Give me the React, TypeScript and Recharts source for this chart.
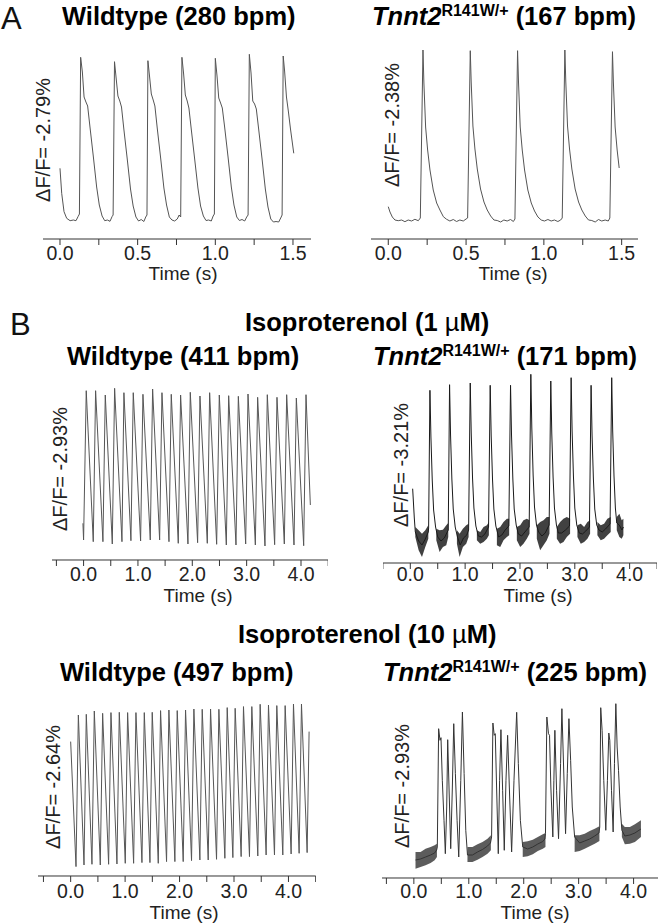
import React from 'react';
import { ComposedChart, Line, Area, XAxis, YAxis } from 'recharts';

type Pt = [number, number];
type Band = [number, number, number];

const FONT = '"Liberation Sans", Arial, Helvetica, sans-serif';
const PLOT_H = 200;
const AXIS_H = 36;

// ---------------- tick labels ----------------
const ticksA = [0, 0.25, 0.5, 0.75, 1.0, 1.25, 1.5];
const ticksBC = [-0.5, 0, 0.5, 1, 1.5, 2, 2.5, 3, 3.5, 4, 4.5];

// ---------------- Panel A : Wildtype (280 bpm)  [time s, fluorescence a.u.] ----------------
const aWildtype: Pt[] = [
  [0.000, 70.7], [0.011, 45.7], [0.026, 27.3], [0.043, 20.7], [0.065, 18.3], [0.086, 19.0], [0.103, 18.3], [0.116, 22.3], [0.125, 25.0],
  [0.133, 181.7], [0.144, 167], [0.155, 142], [0.167, 137], [0.178, 133], [0.193, 112], [0.215, 82], [0.236, 52], [0.253, 34], [0.271, 23], [0.288, 18.3], [0.305, 19], [0.322, 17.7], [0.335, 22.3], [0.342, 24],
  [0.351, 177.3], [0.362, 160], [0.373, 143], [0.385, 138], [0.396, 132], [0.411, 110], [0.433, 80], [0.454, 50], [0.471, 33], [0.489, 22], [0.506, 18], [0.523, 19.5], [0.540, 17.5], [0.552, 22], [0.560, 24],
  [0.566, 178.3], [0.577, 162], [0.588, 145], [0.600, 139], [0.611, 133], [0.626, 111], [0.648, 81], [0.669, 51], [0.686, 34], [0.704, 22], [0.721, 19], [0.738, 18], [0.755, 20], [0.767, 24], [0.777, 22],
  [0.785, 181.7], [0.796, 165], [0.807, 144], [0.819, 138], [0.830, 131], [0.845, 110], [0.867, 80], [0.888, 51], [0.905, 33], [0.923, 23], [0.940, 18.5], [0.957, 19], [0.974, 18], [0.986, 23], [0.994, 25],
  [1.000, 180.7], [1.011, 163], [1.022, 141], [1.034, 136], [1.045, 131], [1.060, 112], [1.082, 82], [1.103, 52], [1.120, 34], [1.138, 22], [1.155, 18.5], [1.172, 19.5], [1.189, 18], [1.202, 22], [1.211, 24],
  [1.219, 184.7], [1.230, 166], [1.241, 138], [1.253, 135], [1.264, 130], [1.279, 110], [1.301, 80], [1.322, 50], [1.339, 32], [1.357, 20], [1.374, 17], [1.391, 17.5], [1.408, 17], [1.421, 21], [1.430, 24],
  [1.437, 183], [1.446, 168], [1.458, 142], [1.470, 128], [1.484, 110], [1.505, 85.7],
];

// ---------------- Panel A : Tnnt2 R141W/+ (167 bpm) ----------------
const aMutant: Pt[] = [
  [0.000, 32.3], [0.011, 27], [0.026, 22], [0.043, 19], [0.064, 18.3], [0.086, 19], [0.107, 17.3], [0.128, 19], [0.150, 18], [0.171, 19.7], [0.193, 18.3], [0.206, 21],
  [0.223, 189], [0.229, 156], [0.240, 112], [0.253, 89], [0.268, 69], [0.289, 49], [0.311, 36], [0.332, 29], [0.354, 22.3], [0.375, 19.7], [0.396, 18], [0.418, 19.5], [0.439, 17.5], [0.460, 19], [0.482, 18], [0.500, 20], [0.510, 21],
  [0.527, 188.3], [0.533, 157], [0.544, 113], [0.557, 90], [0.572, 70], [0.593, 50], [0.615, 37], [0.636, 29], [0.658, 23], [0.679, 19], [0.700, 18.5], [0.722, 17], [0.743, 19], [0.764, 18], [0.786, 19.5], [0.804, 17.5], [0.814, 20],
  [0.831, 188.3], [0.837, 157], [0.848, 112], [0.861, 89], [0.876, 69], [0.897, 49], [0.919, 36], [0.940, 28], [0.962, 22], [0.983, 19], [1.004, 18], [1.026, 19.5], [1.047, 18], [1.068, 19], [1.090, 17.5], [1.108, 19], [1.118, 21],
  [1.135, 189], [1.141, 157], [1.152, 113], [1.165, 90], [1.180, 70], [1.201, 50], [1.223, 37], [1.244, 29], [1.266, 23], [1.287, 19], [1.308, 18.5], [1.330, 17], [1.351, 19.5], [1.372, 18], [1.394, 19], [1.414, 18], [1.424, 21],
  [1.441, 187.3], [1.447, 156], [1.458, 112], [1.471, 89], [1.484, 71],
];

// ---------------- Panel B : Isoproterenol 1 uM, Wildtype (411 bpm) ----------------
const bWtStart: Pt[] = [[-0.012, 36.7], [0.0, 20]];
const bWtPeakT = [0.049, 0.221, 0.399, 0.571, 0.742, 0.914, 1.092, 1.270, 1.442, 1.613, 1.785, 1.963, 2.141, 2.319, 2.497, 2.669, 2.847, 3.025, 3.202, 3.380, 3.558, 3.736, 3.914, 4.092];
const bWtPeakV = [169.3, 169.3, 165, 171.7, 167.3, 167.3, 165.7, 171, 167.3, 165.7, 165, 167.7, 164, 167.3, 165, 164.3, 163.7, 166, 162.7, 165.3, 162.7, 165.3, 162, 165.3];
const bWtTroughT = [0.178, 0.356, 0.528, 0.706, 0.871, 1.049, 1.227, 1.399, 1.571, 1.742, 1.920, 2.098, 2.276, 2.448, 2.626, 2.804, 2.982, 3.160, 3.337, 3.515, 3.693, 3.871, 4.049];
const bWtTroughV = [18.3, 18.3, 16, 18.3, 19.3, 19, 20, 20, 18.3, 16.7, 16, 17.3, 16.7, 15.7, 15, 15, 16, 15, 14, 15.3, 16, 15, 14.3];
const bWtEnd: Pt[] = [[4.172, 55]];

// ---------------- Panel B : Isoproterenol 1 uM, Tnnt2 R141W/+ (171 bpm) ----------------
const bMutant: Pt[] = [
  [0.043, 74.3], [0.073, 45], [0.091, 31], [0.152, 22], [0.213, 18], [0.273, 24], [0.328, 31],
  [0.334, 35], [0.358, 172.7], [0.376, 126], [0.400, 83], [0.425, 53], [0.461, 36],
  [0.50, 26], [0.56, 22], [0.62, 25], [0.692, 33],
  [0.716, 178.3], [0.734, 128], [0.758, 84], [0.783, 54], [0.819, 36],
  [0.86, 26], [0.91, 18], [0.97, 25], [1.03, 28], [1.063, 33],
  [1.093, 180], [1.111, 130], [1.135, 85], [1.160, 55], [1.196, 37],
  [1.24, 27], [1.30, 26], [1.36, 29], [1.427, 36],
  [1.457, 177.7], [1.475, 128], [1.499, 84], [1.524, 54], [1.560, 37],
  [1.61, 26], [1.67, 28], [1.73, 33], [1.797, 37],
  [1.828, 177.7], [1.846, 128], [1.870, 84], [1.895, 54], [1.931, 38],
  [1.97, 29], [2.03, 27], [2.09, 31], [2.168, 36],
  [2.198, 188.7], [2.216, 135], [2.240, 88], [2.265, 56], [2.301, 38],
  [2.34, 31], [2.40, 27], [2.46, 30], [2.532, 38],
  [2.562, 182], [2.580, 130], [2.604, 86], [2.629, 55], [2.665, 38],
  [2.70, 30], [2.76, 30], [2.83, 33], [2.903, 37],
  [2.933, 185.3], [2.951, 132], [2.975, 87], [3.000, 55], [3.036, 38],
  [3.08, 30], [3.14, 29], [3.20, 32], [3.267, 36],
  [3.297, 177.7], [3.315, 128], [3.339, 84], [3.364, 54], [3.400, 38],
  [3.44, 33], [3.50, 31], [3.56, 34], [3.643, 39],
  [3.673, 185.3], [3.691, 132], [3.715, 87], [3.740, 55], [3.765, 40],
  [3.81, 38], [3.86, 33], [3.886, 36],
];
// noise envelope of the diastolic baseline: [time, low, high]
const bMutantNoise: Band[][] = [
  [[0.091, 26, 36], [0.152, 12.7, 32.7], [0.213, 6, 29.3], [0.273, 16, 32.7], [0.328, 24.3, 37.7]],
  [[0.474, 22.7, 34.3], [0.534, 11, 32.7], [0.595, 16, 33.3], [0.656, 17.7, 37.7], [0.692, 26, 40]],
  [[0.850, 19.3, 32.7], [0.899, 6, 29.3], [0.959, 16, 34.3], [1.020, 19.3, 37.7], [1.063, 26, 39.3]],
  [[1.214, 22.7, 32.7], [1.275, 19.3, 31], [1.336, 21, 36], [1.396, 24.3, 37.7], [1.433, 27.7, 41]],
  [[1.579, 17.7, 34.3], [1.639, 16, 36], [1.700, 22.7, 41], [1.761, 26, 44.3], [1.803, 27.7, 44.3]],
  [[1.943, 22.7, 36], [2.004, 16, 37.7], [2.064, 19.3, 42.7], [2.125, 24.3, 44.3], [2.174, 29.3, 42.7]],
  [[2.307, 24.3, 37.7], [2.368, 12.7, 41], [2.429, 17.7, 42.7], [2.489, 22.7, 46], [2.538, 29.3, 46]],
  [[2.672, 24.3, 36], [2.732, 19.3, 41], [2.793, 21, 44.3], [2.854, 26, 46], [2.914, 29.3, 44.3]],
  [[3.048, 26, 37.7], [3.109, 19.3, 39.3], [3.170, 21, 36], [3.230, 24.3, 41], [3.279, 29.3, 42.7]],
  [[3.412, 27.7, 41], [3.473, 22.7, 37.7], [3.534, 24.3, 39.3], [3.594, 27.7, 44.3], [3.655, 31, 46]],
  [[3.765, 32.7, 46], [3.813, 26, 49.3], [3.855, 24.3, 42.7], [3.886, 27.7, 44.3]],
];

// ---------------- Panel B : Isoproterenol 10 uM, Wildtype (497 bpm) ----------------
const cWtStart: Pt[] = [[0.0, 130.7]];
const cWtPeakT = [0.141, 0.287, 0.434, 0.587, 0.740, 0.893, 1.046, 1.199, 1.352, 1.498, 1.651, 1.804, 1.957, 2.110, 2.263, 2.416, 2.569, 2.722, 2.875, 3.021, 3.174, 3.327, 3.480, 3.633, 3.786, 3.939, 4.092, 4.239];
const cWtPeakV = [157.3, 158, 161.3, 159, 159.7, 160, 159.7, 159.7, 159.7, 160, 161.7, 162.3, 161.7, 162.3, 163.3, 163, 163.3, 163, 164.7, 164, 165.7, 165.7, 168, 167.3, 166.7, 166.7, 168.3, 168.3];
const cWtTroughT = [0.098, 0.245, 0.391, 0.544, 0.697, 0.850, 1.003, 1.156, 1.309, 1.456, 1.609, 1.761, 1.914, 2.067, 2.220, 2.373, 2.526, 2.679, 2.832, 2.979, 3.131, 3.284, 3.437, 3.590, 3.743, 3.896, 4.049, 4.196, 4.343];
const cWtTroughV = [5.7, 7.3, 8, 7.3, 8, 8.3, 9, 9, 9.7, 9.7, 9, 10.7, 10.7, 10.7, 11.7, 12.3, 12.3, 13, 14, 14.7, 15.7, 15.7, 16.3, 17.3, 17.3, 17.3, 18.3, 19, 19.7];
const cWtEnd: Pt[] = [[4.379, 140.7]];

// ---------------- Panel B : Isoproterenol 10 uM, Tnnt2 R141W/+ (225 bpm) ----------------
const cMutant: Pt[] = [
  [0.030, 18], [0.122, 19], [0.213, 21], [0.305, 23], [0.378, 25], [0.415, 28],
  [0.427, 31], [0.451, 149.3], [0.476, 137.7], [0.494, 140.3], [0.518, 97.7], [0.549, 57.7], [0.573, 24.3], [0.598, 71], [0.616, 138.3], [0.640, 91], [0.671, 29.3], [0.701, 91], [0.726, 154.3], [0.756, 104.3], [0.787, 57.7], [0.817, 21], [0.854, 97.7], [0.884, 166], [0.915, 104.3], [0.945, 47.7], [0.976, 23],
  [1.067, 23], [1.159, 26], [1.250, 28.5], [1.341, 32], [1.395, 35],
  [1.415, 41], [1.439, 155], [1.463, 142.7], [1.482, 144.3], [1.506, 91], [1.537, 24.3], [1.561, 97.7], [1.585, 148.3], [1.616, 87.7], [1.646, 27.7], [1.677, 97.7], [1.707, 142.7], [1.744, 81], [1.780, 26], [1.823, 97.7], [1.872, 165.7], [1.902, 114.3], [1.939, 57.7], [1.982, 31],
  [2.073, 29], [2.165, 31], [2.256, 34], [2.348, 36.5], [2.385, 39],
  [2.396, 44.3], [2.421, 161], [2.451, 144.3], [2.470, 142.7], [2.494, 91], [2.530, 41], [2.549, 97.7], [2.567, 147.7], [2.598, 87.7], [2.634, 39.3], [2.671, 114.3], [2.695, 169.3], [2.726, 111], [2.762, 44.3], [2.793, 104.3], [2.823, 159.3], [2.854, 117.7], [2.884, 71], [2.927, 41],
  [3.018, 35], [3.110, 37], [3.201, 39], [3.293, 42], [3.370, 45],
  [3.384, 51], [3.402, 170.3], [3.427, 147.7], [3.457, 97.7], [3.494, 47.7], [3.524, 97.7], [3.549, 145], [3.567, 137.7], [3.598, 87.7], [3.628, 46], [3.652, 114.3], [3.677, 174.3], [3.701, 131], [3.726, 107.7], [3.756, 71], [3.787, 47.7],
  [3.841, 42], [3.933, 43], [4.024, 45], [4.134, 49],
];
const cMutantNoise: Band[][] = [
  [[0.030, 9.3, 26], [0.122, 11, 26], [0.213, 12.7, 29.3], [0.305, 15, 31], [0.378, 17.7, 32.7], [0.420, 21, 34.3]],
  [[0.976, 16, 31], [1.067, 16, 31], [1.159, 18.3, 33.7], [1.250, 21, 36], [1.341, 24.3, 39.3], [1.402, 27.7, 42.7]],
  [[1.982, 21, 36], [2.073, 21.7, 36.7], [2.165, 23.7, 38.3], [2.256, 27, 41], [2.348, 29.3, 43.7], [2.396, 31, 45]],
  [[2.927, 26, 42.7], [3.018, 27, 42.7], [3.110, 29.3, 44.3], [3.201, 31.7, 47], [3.293, 34.3, 49.3], [3.378, 37, 51.7]],
  [[3.787, 41, 54.3], [3.841, 33.7, 51], [3.933, 34.3, 51], [4.024, 36, 53.7], [4.134, 41, 57.7]],
];

// ---------------- helpers ----------------
const toRows = (pts: Pt[]) => pts.map(([t, v]) => ({ t, v }));
const sawtooth = (start: Pt[], pT: number[], pV: number[], tT: number[], tV: number[], end: Pt[]) => {
  const pts: Pt[] = [...start, ...pT.map((t, i) => [t, pV[i]] as Pt), ...tT.map((t, i) => [t, tV[i]] as Pt), ...end];
  pts.sort((a, b) => a[0] - b[0]);
  return toRows(pts);
};
const bandRows = (seg: Band[]) => seg.map(([t, lo, hi]) => ({ t, r: [lo, hi] }));

type Panel = {
  x0: number; x1: number; axisY: number; domain: [number, number]; yDomain: [number, number];
  ticks: number[]; major: number; tickMargin: number;
  rows: { t: number; v: number }[]; noise?: Band[][]; stroke: string; noiseFill?: string; noiseOpacity?: number;
};

const panels: Panel[] = [
  { x0: 43, x1: 311, axisY: 239, domain: [-0.1094, 1.616], yDomain: [0, PLOT_H], ticks: ticksA, major: 0.5, tickMargin: 1, rows: toRows(aWildtype), stroke: '#555' },
  { x0: 371, x1: 638, axisY: 239, domain: [-0.111, 1.605], yDomain: [0, PLOT_H], ticks: ticksA, major: 0.5, tickMargin: 1, rows: toRows(aMutant), stroke: '#555' },
  { x0: 51.7, x1: 328, axisY: 560, domain: [-0.581, 4.502], yDomain: [0, PLOT_H], ticks: ticksBC, major: 1, tickMargin: 1, rows: sawtooth(bWtStart, bWtPeakT, bWtPeakV, bWtTroughT, bWtTroughV, bWtEnd), stroke: '#555' },
  { x0: 382.7, x1: 656.7, axisY: 563, domain: [-0.498, 4.499], yDomain: [0, PLOT_H], ticks: ticksBC, major: 1, tickMargin: -2, rows: toRows(bMutant), noise: bMutantNoise, stroke: '#1a1a1a', noiseFill: '#111', noiseOpacity: 0.8 },
  { x0: 38.3, x1: 316, axisY: 876, domain: [-0.6, 4.5], yDomain: [-3.7, PLOT_H - 3.7], ticks: ticksBC, major: 1, tickMargin: 2, rows: sawtooth(cWtStart, cWtPeakT, cWtPeakV, cWtTroughT, cWtTroughV, cWtEnd), stroke: '#555' },
  { x0: 381.7, x1: 658, axisY: 877.5, domain: [-0.58, 4.45], yDomain: [0, PLOT_H], ticks: ticksBC, major: 1, tickMargin: 0, rows: toRows(cMutant), noise: cMutantNoise, stroke: '#333', noiseFill: '#333', noiseOpacity: 0.8 },
];

const TraceChart = ({ p }: { p: Panel }) => {
  const w = p.x1 - p.x0;
  const tick = (props: any) => {
    const { x, y, payload } = props;
    const val = payload.value as number;
    const k = val / p.major;
    if (Math.abs(k - Math.round(k)) > 1e-6 || val < 0) return <g />;
    return (
      <text x={x} y={y} dy="0.71em" textAnchor="middle" fontSize={19.5} fill="#222" fontFamily={FONT}>
        {val.toFixed(1)}
      </text>
    );
  };
  return (
    <div style={{ position: 'absolute', left: p.x0, top: p.axisY - PLOT_H, width: w, height: PLOT_H + AXIS_H }}>
      <ComposedChart width={w} height={PLOT_H + AXIS_H} margin={{ top: 0, right: 0, bottom: 0, left: 0 }}>
        <XAxis
          dataKey="t"
          type="number"
          domain={p.domain}
          allowDataOverflow
          ticks={p.ticks}
          interval={0}
          tickSize={6}
          tickMargin={p.tickMargin}
          height={AXIS_H}
          axisLine={{ stroke: '#333', strokeWidth: 1 }}
          tickLine={{ stroke: '#333', strokeWidth: 1 }}
          tick={tick}
        />
        <YAxis hide type="number" domain={p.yDomain} allowDataOverflow />
        {(p.noise || []).map((seg, i) => (
          <Area
            key={i}
            data={bandRows(seg)}
            dataKey="r"
            type="linear"
            stroke="none"
            fill={p.noiseFill}
            fillOpacity={p.noiseOpacity}
            isAnimationActive={false}
          />
        ))}
        <Line data={p.rows} dataKey="v" type="linear" dot={false} stroke={p.stroke} strokeWidth={1} isAnimationActive={false} />
      </ComposedChart>
    </div>
  );
};

const titleStyle = { fontFamily: FONT, fontWeight: 'bold' as const, fill: '#000' };

const MutTitle = ({ x, y, bpm }: { x: number; y: number; bpm: string }) => (
  <text x={x} y={y} fontSize={25.5} {...titleStyle}>
    <tspan fontStyle="italic">Tnnt2</tspan>
    <tspan fontSize={16} dy={-9}>R141W/+</tspan>
    <tspan dy={9}>{` (${bpm} bpm)`}</tspan>
  </text>
);

const IsoTitle = ({ x, y, dose }: { x: number; y: number; dose: string }) => (
  <text x={x} y={y} fontSize={25.5} {...titleStyle}>
    {`Isoproterenol (${dose} `}
    <tspan fontWeight="normal">µ</tspan>
    {'M)'}
  </text>
);

const YLab = ({ x, y, text }: { x: number; y: number; text: string }) => (
  <text
    x={x}
    y={y}
    transform={`rotate(-90 ${x} ${y})`}
    textAnchor="middle"
    dominantBaseline="central"
    fontSize={20}
    fill="#222"
    fontFamily={FONT}
  >
    {text}
  </text>
);

const TimeLab = ({ x, y }: { x: number; y: number }) => (
  <text x={x} y={y} textAnchor="middle" fontSize={19} fill="#222" fontFamily={FONT}>
    Time (s)
  </text>
);

export default function App() {
  return (
    <div style={{ position: 'absolute', left: 0, top: 0, width: 660, height: 924, background: '#fff', overflow: 'hidden' }}>
      {panels.map((p, i) => (
        <TraceChart key={i} p={p} />
      ))}
      <svg width={660} height={924} style={{ position: 'absolute', left: 0, top: 0, pointerEvents: 'none' }}>
        {/* Panel A */}
        <text x={1} y={29} fontSize={31} fontFamily={FONT} fill="#111">A</text>
        <text x={62} y={25} fontSize={25.5} {...titleStyle}>Wildtype (280 bpm)</text>
        <MutTitle x={372} y={25} bpm="167" />
        <YLab x={42.7} y={140} text="ΔF/F= -2.79%" />
        <YLab x={392} y={125} text="ΔF/F= -2.38%" />
        <TimeLab x={183} y={280} />
        <TimeLab x={513} y={280} />

        {/* Panel B, 1 uM */}
        <text x={10} y={335} fontSize={31} fontFamily={FONT} fill="#111">B</text>
        <IsoTitle x={245} y={331} dose="1" />
        <text x={67} y={365} fontSize={25.5} {...titleStyle}>Wildtype (411 bpm)</text>
        <MutTitle x={373} y={365} bpm="171" />
        <YLab x={59.5} y={469} text="ΔF/F= -2.93%" />
        <YLab x={401} y={465} text="ΔF/F= -3.21%" />
        <TimeLab x={198} y={602} />
        <TimeLab x={538} y={602} />

        {/* Panel B, 10 uM */}
        <IsoTitle x={238} y={643} dose="10" />
        <text x={60} y={681} fontSize={25.5} {...titleStyle}>Wildtype (497 bpm)</text>
        <MutTitle x={383} y={681} bpm="225" />
        <YLab x={53.3} y={787} text="ΔF/F= -2.64%" />
        <YLab x={402} y={786} text="ΔF/F= -2.93%" />
        <TimeLab x={184} y={919} />
        <TimeLab x={535} y={919} />
      </svg>
    </div>
  );
}
